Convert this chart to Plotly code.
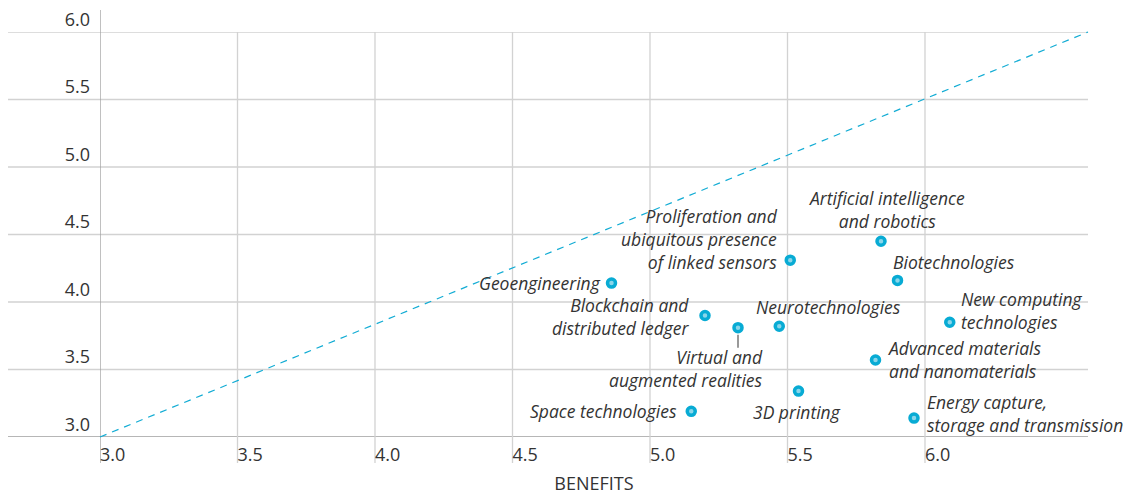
import plotly.graph_objects as go

# ---- data ----
technologies = [
    "Geoengineering",
    "Proliferation and<br>ubiquitous presence<br>of linked sensors",
    "Artificial intelligence<br>and robotics",
    "Biotechnologies",
    "New computing<br>technologies",
    "Blockchain and<br>distributed ledger",
    "Virtual and<br>augmented realities",
    "Neurotechnologies",
    "Advanced materials<br>and nanomaterials",
    "3D printing",
    "Space technologies",
    "Energy capture,<br>storage and transmission",
]
benefits = [4.86, 5.51, 5.84, 5.90, 6.09, 5.20, 5.32, 5.47, 5.82, 5.54, 5.15, 5.96]
risks = [4.14, 4.31, 4.45, 4.16, 3.85, 3.90, 3.81, 3.82, 3.57, 3.34, 3.19, 3.14]

x_ticks = [3.0, 3.5, 4.0, 4.5, 5.0, 5.5, 6.0]
x_tick_labels = ["3.0", "3.5", "4.0", "4.5", "5.0", "5.5", "6.0"]
y_ticks = [3.0, 3.5, 4.0, 4.5, 5.0, 5.5, 6.0]
y_tick_labels = ["3.0", "3.5", "4.0", "4.5", "5.0", "5.5", "6.0"]
x_title = "BENEFITS"

# ---- label placement (pixels relative to the point) ----
placement = [
    dict(xanchor="right", align="right", xshift=-11, yshift=0),
    dict(xanchor="right", align="right", xshift=-12, yshift=21),
    dict(xanchor="center", align="center", xshift=6, yshift=32),
    dict(xanchor="left", align="left", xshift=-5, yshift=18),
    dict(xanchor="left", align="left", xshift=11, yshift=12),
    dict(xanchor="right", align="right", xshift=-15, yshift=-1),
    dict(xanchor="right", align="right", xshift=25, yshift=-41),
    dict(xanchor="left", align="left", xshift=-23, yshift=19),
    dict(xanchor="left", align="left", xshift=12, yshift=1),
    dict(xanchor="center", align="center", xshift=-2, yshift=-21),
    dict(xanchor="right", align="right", xshift=-14, yshift=0),
    dict(xanchor="left", align="left", xshift=13, yshift=5),
]

FONT = "'Open Sans', Lato, sans-serif"
TEXT = "#333333"
CYAN = "#12acd4"
GRID = "#d2d2d2"
AXIS = "#9e9e9e"

# page has an 8px body margin, so the figure is 8px smaller than the window
W, H = 1123, 490
ML, MR, MT, MB = 92, 43, 24, 61
PW, PH = W - ML - MR, H - MT - MB
PX_PER_UNIT = 275.0
x_max = 3.0 + PW / PX_PER_UNIT

fig = go.Figure()

fig.add_trace(go.Scatter(
    x=benefits, y=risks, mode="markers",
    marker=dict(size=8, color="#8ad6ea", line=dict(width=3.5, color="#08abd4")),
    hoverinfo="skip", showlegend=False, cliponaxis=False,
))

shapes = []
# horizontal grid lines (extend to the left under the tick labels)
for v in y_ticks:
    shapes.append(dict(type="line", xref="paper", yref="y",
                       x0=-ML / PW, x1=1, y0=v, y1=v,
                       line=dict(color=AXIS if v == y_ticks[0] else GRID, width=1.3),
                       layer="below"))
# vertical grid lines (extend below the axis next to the tick labels)
for v in x_ticks:
    top = 1 + (22 / PH if v == x_ticks[0] else 0)
    shapes.append(dict(type="line", xref="x", yref="paper",
                       x0=v, x1=v, y0=-26 / PH, y1=top,
                       line=dict(color=AXIS if v == x_ticks[0] else GRID, width=1.3),
                       layer="below"))
# dashed reference diagonal
shapes.append(dict(type="line", xref="paper", yref="paper", x0=0, y0=0, x1=1, y1=1,
                   line=dict(color=CYAN, width=1.2, dash="7px,6px"), layer="below"))
# connector for the "Virtual and augmented realities" label
vi = 6
shapes.append(dict(type="line", xref="x", yref="y", x0=benefits[vi], x1=benefits[vi],
                   ysizemode="pixel", yanchor=risks[vi], y0=-7, y1=-20,
                   line=dict(color="#555555", width=1.2)))

annotations = []
for name, bx, ry, p in zip(technologies, benefits, risks, placement):
    annotations.append(dict(
        x=bx, y=ry, xref="x", yref="y", text=name, showarrow=False,
        xanchor=p["xanchor"], yanchor="middle", align=p["align"],
        xshift=p["xshift"], yshift=p["yshift"],
        borderpad=0, borderwidth=0,
        font=dict(family=FONT, size=17.5, color=TEXT, style="italic"),
    ))

fig.update_layout(
    width=W, height=H,
    margin=dict(l=ML, r=MR, t=MT, b=MB, pad=0, autoexpand=False),
    paper_bgcolor="white", plot_bgcolor="white",
    shapes=shapes, annotations=annotations,
    xaxis=dict(range=[3.0, x_max], tickvals=x_ticks, ticktext=x_tick_labels,
               ticklabelposition="outside right", ticks="", showgrid=False,
               zeroline=False, showline=False, ticklabelstandoff=5, automargin=False,
               ticklabeloverflow="allow",
               tickfont=dict(family=FONT, size=18, color=TEXT),
               title=dict(text=x_title, font=dict(family=FONT, size=18, color=TEXT),
                          standoff=12)),
    yaxis=dict(range=[3.0, 6.0], tickvals=y_ticks, ticktext=y_tick_labels,
               ticklabelposition="outside top", ticks="", showgrid=False,
               zeroline=False, showline=False, ticklabelstandoff=9, automargin=False,
               ticklabeloverflow="allow",
               tickfont=dict(family=FONT, size=18, color=TEXT)),
    showlegend=False,
)

fig.write_html("out.html")
